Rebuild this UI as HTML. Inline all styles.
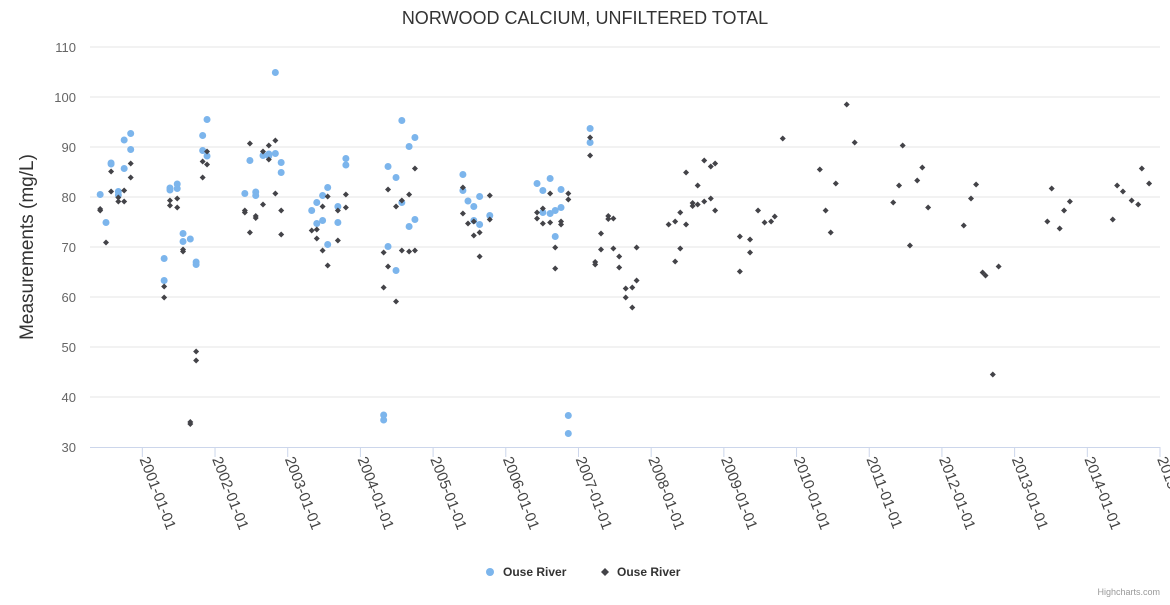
<!DOCTYPE html>
<html><head><meta charset="utf-8"><style>
body{margin:0;background:#fff;font-family:"Liberation Sans",sans-serif}
svg text{font-family:"Liberation Sans",sans-serif}
</style></head><body>
<svg id="chart" width="1170" height="600" xmlns="http://www.w3.org/2000/svg">
<rect width="1170" height="600" fill="#fff"/>
<text x="585" y="24" text-anchor="middle" font-size="18" fill="#333">NORWOOD CALCIUM, UNFILTERED TOTAL</text>
<text transform="translate(33,247) rotate(-90)" text-anchor="middle" font-size="19" fill="#333">Measurements (mg/L)</text>
<g id="grid"></g><g id="xaxis"></g><g id="s1"></g><g id="s2"></g>
<g>
<g><circle cx="490" cy="572" r="4" fill="#7cb5ec"/><text x="503" y="576" font-size="12" font-weight="bold" fill="#333">Ouse River</text></g>
<g><path d="M605 568 L609 572 L605 576 L601 572 Z" fill="#434348"/><text x="617" y="576" font-size="12" font-weight="bold" fill="#333">Ouse River</text></g>
</g>
<text x="1160" y="595" text-anchor="end" font-size="9" fill="#999">Highcharts.com</text>
</svg>
<script>
const yTicks=[30,40,50,60,70,80,90,100,110];
const xTickYears=[2001,2002,2003,2004,2005,2006,2007,2008,2009,2010,2011,2012,2013,2014,2015];
const blueX=[2000.42,2000.50,2000.57,2000.57,2000.67,2000.67,2000.75,2000.75,2000.84,2000.84,2001.30,2001.30,2001.38,2001.38,2001.48,2001.48,2001.56,2001.56,2001.66,2001.74,2001.74,2001.83,2001.83,2001.89,2001.89,2002.41,2002.48,2002.56,2002.56,2002.66,2002.74,2002.74,2002.83,2002.83,2002.91,2002.91,2003.33,2003.40,2003.40,2003.48,2003.48,2003.55,2003.55,2003.69,2003.69,2003.80,2003.80,2004.32,2004.32,2004.38,2004.38,2004.49,2004.49,2004.57,2004.57,2004.67,2004.67,2004.75,2004.75,2005.41,2005.41,2005.48,2005.56,2005.56,2005.64,2005.64,2005.78,2006.43,2006.51,2006.51,2006.61,2006.61,2006.68,2006.68,2006.76,2006.76,2006.86,2006.86,2007.16,2007.16];
const blueY=[80.5,74.9,86.8,86.6,81.1,80.4,91.4,85.7,92.7,89.5,67.7,63.3,81.8,81.4,82.6,81.7,72.7,71.1,71.6,67,66.5,92.3,89.3,95.5,88.2,80.7,87.3,81,80.3,88.3,88.6,88.2,104.9,88.7,86.9,84.9,77.3,78.9,74.7,80.3,75.3,81.9,70.5,78.1,74.9,87.7,86.4,36.4,35.4,86.1,70.1,83.9,65.3,95.3,78.9,90.1,74.1,91.9,75.5,84.5,81.3,79.2,78.1,75.3,80.1,74.5,76.3,82.7,81.3,76.9,83.7,76.7,77.3,72.1,81.5,77.9,36.3,32.7,93.7,90.9];
const blackX=[2000.42,2000.42,2000.50,2000.57,2000.57,2000.67,2000.67,2000.75,2000.75,2000.84,2000.84,2001.30,2001.30,2001.38,2001.38,2001.48,2001.48,2001.56,2001.56,2001.66,2001.66,2001.74,2001.74,2001.83,2001.83,2001.89,2001.89,2002.41,2002.41,2002.48,2002.48,2002.56,2002.56,2002.66,2002.66,2002.74,2002.74,2002.83,2002.83,2002.91,2002.91,2003.33,2003.40,2003.40,2003.48,2003.48,2003.55,2003.55,2003.69,2003.69,2003.80,2003.80,2004.32,2004.32,2004.38,2004.38,2004.49,2004.49,2004.57,2004.57,2004.67,2004.67,2004.75,2004.75,2005.41,2005.41,2005.48,2005.56,2005.56,2005.64,2005.64,2005.78,2005.78,2006.43,2006.43,2006.51,2006.51,2006.61,2006.61,2006.68,2006.68,2006.76,2006.76,2006.86,2006.86,2007.16,2007.16,2007.23,2007.23,2007.31,2007.31,2007.41,2007.41,2007.48,2007.48,2007.56,2007.56,2007.65,2007.65,2007.74,2007.74,2007.80,2007.80,2008.24,2008.33,2008.33,2008.40,2008.40,2008.48,2008.48,2008.57,2008.57,2008.64,2008.64,2008.73,2008.73,2008.82,2008.82,2008.88,2008.88,2009.22,2009.22,2009.36,2009.36,2009.47,2009.56,2009.65,2009.70,2009.81,2010.32,2010.40,2010.47,2010.54,2010.69,2010.80,2011.33,2011.41,2011.46,2011.56,2011.66,2011.73,2011.81,2012.30,2012.40,2012.47,2012.56,2012.60,2012.70,2012.78,2013.45,2013.51,2013.62,2013.68,2013.76,2014.35,2014.41,2014.49,2014.61,2014.70,2014.75,2014.85];
const blackY=[77.6,77.3,70.9,85.1,81.1,79.9,79.1,81.3,79.1,86.7,83.9,62.1,59.9,79.3,78.3,79.7,77.9,69.5,69.1,35,34.6,49.1,47.3,87.1,83.9,89.1,86.5,77.3,76.9,90.7,72.9,76.2,75.8,89.1,78.5,90.3,87.5,91.3,80.7,77.3,72.5,73.3,73.5,71.7,78.1,69.3,80.1,66.3,77.3,71.3,80.5,77.9,68.9,61.9,81.5,66.1,78.1,59.1,79.3,69.3,80.5,69.1,85.7,69.3,81.9,76.7,74.7,75.1,72.3,72.9,68.1,80.3,75.5,76.9,75.7,77.7,74.7,80.7,74.9,69.9,65.7,75.1,74.5,80.7,79.5,91.9,88.3,67,66.5,72.7,69.5,76.2,75.6,75.7,69.7,68.1,65.9,61.7,59.9,61.9,57.9,69.9,63.3,74.5,75.1,67.1,76.9,69.7,84.9,74.5,78.8,78.2,82.3,78.5,87.3,79.1,86.1,79.7,86.7,77.3,72.1,65.1,71.5,68.9,77.3,74.9,75.1,76.1,91.7,85.5,77.3,72.9,82.7,98.5,90.9,78.9,82.3,90.3,70.3,83.3,85.9,77.9,74.3,79.7,82.5,64.9,64.3,44.5,66.1,75.1,81.7,73.7,77.3,79.1,75.5,82.3,81.1,79.3,78.5,85.7,82.7];
const NS='http://www.w3.org/2000/svg';
const L=90,R=1160,T=47,B=447,X0=2000.28,X1=2015.0,Y0=30,Y1=110;
function xs(v){return L+(v-X0)/(X1-X0)*(R-L);}
function ys(v){return B-(v-Y0)/(Y1-Y0)*(B-T);}
function mk(tag,attrs,parent){const e=document.createElementNS(NS,tag);for(const k in attrs)e.setAttribute(k,attrs[k]);parent.appendChild(e);return e;}
const grid=document.getElementById('grid');
yTicks.forEach(v=>{
 if(v>Y0){const g=mk('line',{x1:L,x2:R,y1:ys(v),y2:ys(v),stroke:'#e6e6e6','stroke-width':1},grid);
 
 }
 const t=mk('text',{x:76,y:ys(v)+5,'text-anchor':'end','font-size':13,fill:'#666'},grid);
 
 
 t.textContent=v;
});
const xa=document.getElementById('xaxis');
const al=mk('line',{x1:L,x2:R,y1:B+0.5,y2:B+0.5,stroke:'#ccd6eb'},xa);


xTickYears.forEach(y=>{
 const x=xs(y);
 const tk=mk('line',{x1:x,x2:x,y1:B,y2:B+10,stroke:'#ccd6eb'},xa);
 
 
 const t=mk('text',{x:0,y:0,'font-size':15,fill:'#444',transform:'translate('+(x-3)+','+(B+12)+') rotate(69)'},xa);
 
 
 t.textContent=y+'-01-01';
});
const s1=document.getElementById('s1');


blueX.forEach((v,i)=>{
 const c=mk('circle',{cx:xs(v),cy:ys(blueY[i]),r:3.5,fill:'#7cb5ec'},s1);
 
 
});
const s2=document.getElementById('s2');


blackX.forEach((v,i)=>{
 const x=xs(v),y=ys(blackY[i]);
 const p=mk('path',{d:`M${x} ${y-3} L${x+3} ${y} L${x} ${y+3} L${x-3} ${y} Z`,fill:'#434348'},s2);
 
 
});
</script>
</body></html>
